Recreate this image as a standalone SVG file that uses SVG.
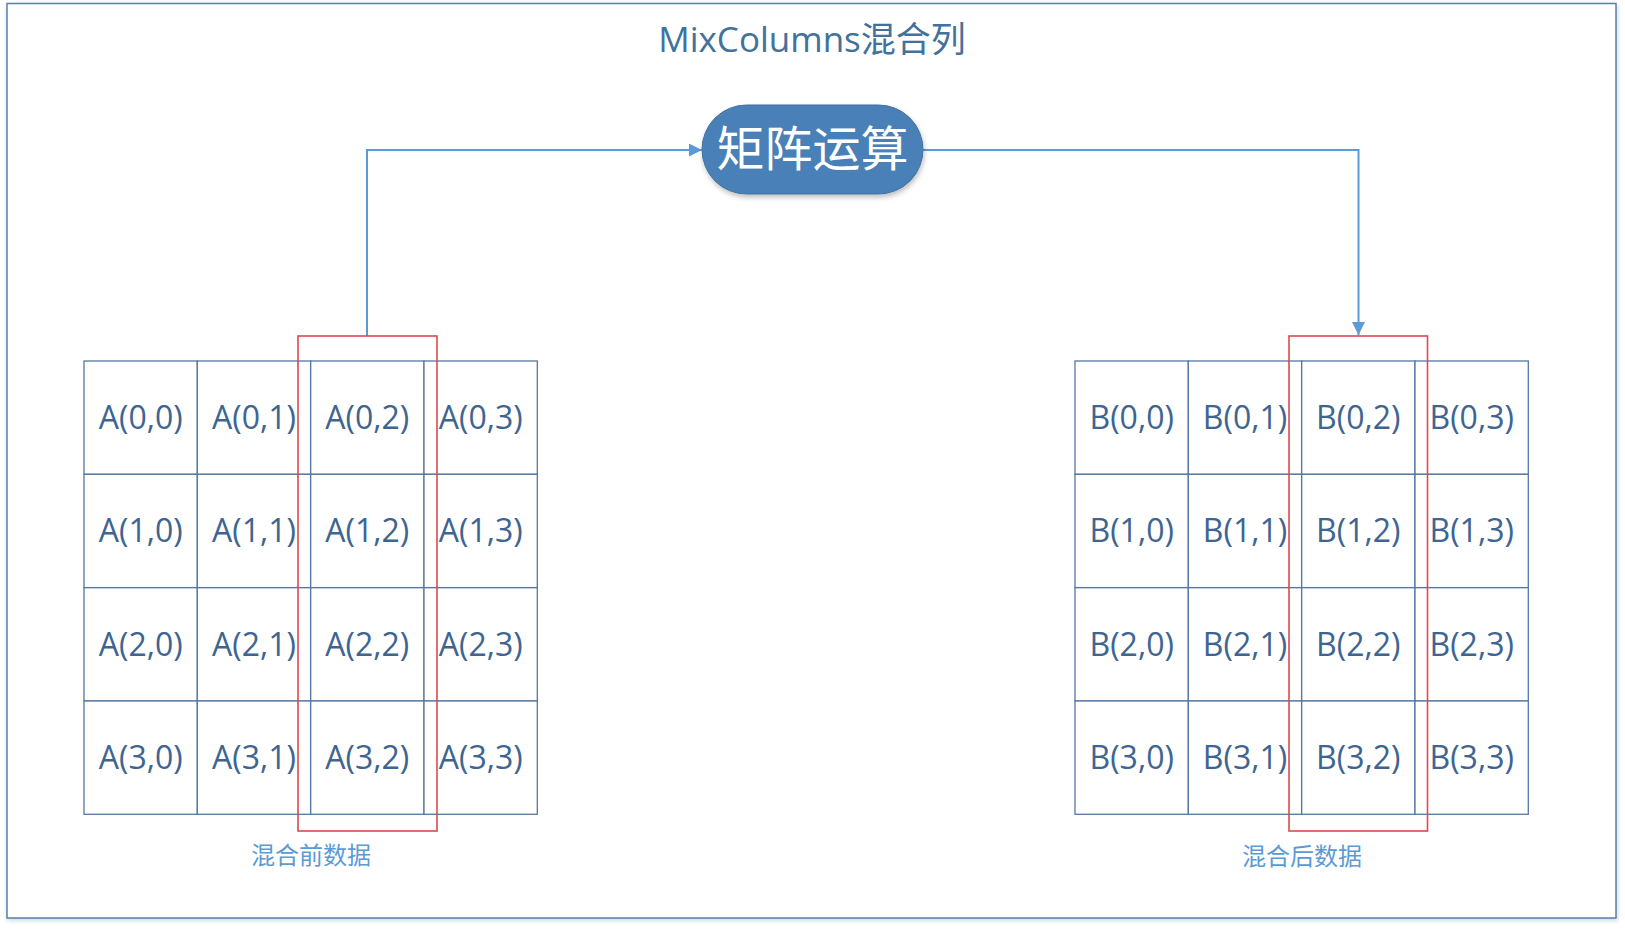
<svg xmlns="http://www.w3.org/2000/svg" width="1625" height="930" viewBox="0 0 1625 930">
<style>
.cell{fill:#ffffff;stroke:#5577a0;stroke-width:1.3}
.ct{font-family:"Open Sans","Noto Sans",sans-serif;font-size:32px;fill:#3e6591;text-anchor:middle}
.red{fill:none;stroke:#e0484e;stroke-width:1.6}
.conn{fill:none;stroke:#5b9bd5;stroke-width:2}
.lbl{font-family:"Noto Sans CJK SC",sans-serif;font-size:24px;fill:#5b9bd5;text-anchor:middle}
</style>
<defs>
<marker id="arr" viewBox="0 0 10 10" refX="10" refY="5" markerWidth="13" markerHeight="13" markerUnits="userSpaceOnUse" orient="auto">
<path d="M0,0 L10,5 L0,10 z" fill="#5b9bd5"/>
</marker>
<filter id="sh" x="-10%" y="-10%" width="130%" height="140%">
<feDropShadow dx="1" dy="3" stdDeviation="2.5" flood-color="#000" flood-opacity="0.25"/>
</filter>
<filter id="sh2" x="-2%" y="-2%" width="104%" height="104%">
<feDropShadow dx="1" dy="2" stdDeviation="2" flood-color="#7a9cc4" flood-opacity="0.4"/>
</filter>
</defs>
<rect width="1625" height="930" fill="#ffffff"/>
<rect id="frame" x="7" y="3.5" width="1609" height="914.5" fill="#ffffff" stroke="#5a7fa8" stroke-width="1.5" filter="url(#sh2)"/>
<text id="title" x="812" y="52" font-family="'Open Sans','Noto Sans CJK SC',sans-serif" font-size="35" fill="#41719c" text-anchor="middle">MixColumns混合列</text>

<g id="connectors">
<polyline class="conn" points="367,336 367,150 702,150" marker-end="url(#arr)"/>
<polyline class="conn" points="923,150 1358.5,150 1358.5,335" marker-end="url(#arr)"/>
</g>

<g id="matrix-op">
<rect x="702" y="105" width="221" height="89" rx="44.5" ry="44.5" fill="#4a80b8" stroke="#41719c" stroke-width="1" filter="url(#sh)"/>
<text x="812.5" y="166" font-family="'Noto Sans CJK SC',sans-serif" font-size="48" fill="#ffffff" text-anchor="middle">矩阵运算</text>
</g>

<g id="matrix-A">
<rect class="cell" x="84" y="361" width="113.3" height="113.3"/>
<rect class="cell" x="197.3" y="361" width="113.3" height="113.3"/>
<rect class="cell" x="310.7" y="361" width="113.3" height="113.3"/>
<rect class="cell" x="424" y="361" width="113.3" height="113.3"/>
<rect class="cell" x="84" y="474.3" width="113.3" height="113.3"/>
<rect class="cell" x="197.3" y="474.3" width="113.3" height="113.3"/>
<rect class="cell" x="310.7" y="474.3" width="113.3" height="113.3"/>
<rect class="cell" x="424" y="474.3" width="113.3" height="113.3"/>
<rect class="cell" x="84" y="587.7" width="113.3" height="113.3"/>
<rect class="cell" x="197.3" y="587.7" width="113.3" height="113.3"/>
<rect class="cell" x="310.7" y="587.7" width="113.3" height="113.3"/>
<rect class="cell" x="424" y="587.7" width="113.3" height="113.3"/>
<rect class="cell" x="84" y="701" width="113.3" height="113.3"/>
<rect class="cell" x="197.3" y="701" width="113.3" height="113.3"/>
<rect class="cell" x="310.7" y="701" width="113.3" height="113.3"/>
<rect class="cell" x="424" y="701" width="113.3" height="113.3"/>
<text class="ct" x="140.7" y="429">A(0,0)</text>
<text class="ct" x="254" y="429">A(0,1)</text>
<text class="ct" x="367.3" y="429">A(0,2)</text>
<text class="ct" x="480.7" y="429">A(0,3)</text>
<text class="ct" x="140.7" y="542.3">A(1,0)</text>
<text class="ct" x="254" y="542.3">A(1,1)</text>
<text class="ct" x="367.3" y="542.3">A(1,2)</text>
<text class="ct" x="480.7" y="542.3">A(1,3)</text>
<text class="ct" x="140.7" y="655.7">A(2,0)</text>
<text class="ct" x="254" y="655.7">A(2,1)</text>
<text class="ct" x="367.3" y="655.7">A(2,2)</text>
<text class="ct" x="480.7" y="655.7">A(2,3)</text>
<text class="ct" x="140.7" y="769">A(3,0)</text>
<text class="ct" x="254" y="769">A(3,1)</text>
<text class="ct" x="367.3" y="769">A(3,2)</text>
<text class="ct" x="480.7" y="769">A(3,3)</text>
<rect class="red" x="298" y="336" width="139" height="495"/>
<text class="lbl" x="311" y="864">混合前数据</text>
</g>

<g id="matrix-B">
<rect class="cell" x="1075" y="361" width="113.3" height="113.3"/>
<rect class="cell" x="1188.3" y="361" width="113.3" height="113.3"/>
<rect class="cell" x="1301.7" y="361" width="113.3" height="113.3"/>
<rect class="cell" x="1415" y="361" width="113.3" height="113.3"/>
<rect class="cell" x="1075" y="474.3" width="113.3" height="113.3"/>
<rect class="cell" x="1188.3" y="474.3" width="113.3" height="113.3"/>
<rect class="cell" x="1301.7" y="474.3" width="113.3" height="113.3"/>
<rect class="cell" x="1415" y="474.3" width="113.3" height="113.3"/>
<rect class="cell" x="1075" y="587.7" width="113.3" height="113.3"/>
<rect class="cell" x="1188.3" y="587.7" width="113.3" height="113.3"/>
<rect class="cell" x="1301.7" y="587.7" width="113.3" height="113.3"/>
<rect class="cell" x="1415" y="587.7" width="113.3" height="113.3"/>
<rect class="cell" x="1075" y="701" width="113.3" height="113.3"/>
<rect class="cell" x="1188.3" y="701" width="113.3" height="113.3"/>
<rect class="cell" x="1301.7" y="701" width="113.3" height="113.3"/>
<rect class="cell" x="1415" y="701" width="113.3" height="113.3"/>
<text class="ct" x="1131.7" y="429">B(0,0)</text>
<text class="ct" x="1245" y="429">B(0,1)</text>
<text class="ct" x="1358.3" y="429">B(0,2)</text>
<text class="ct" x="1471.7" y="429">B(0,3)</text>
<text class="ct" x="1131.7" y="542.3">B(1,0)</text>
<text class="ct" x="1245" y="542.3">B(1,1)</text>
<text class="ct" x="1358.3" y="542.3">B(1,2)</text>
<text class="ct" x="1471.7" y="542.3">B(1,3)</text>
<text class="ct" x="1131.7" y="655.7">B(2,0)</text>
<text class="ct" x="1245" y="655.7">B(2,1)</text>
<text class="ct" x="1358.3" y="655.7">B(2,2)</text>
<text class="ct" x="1471.7" y="655.7">B(2,3)</text>
<text class="ct" x="1131.7" y="769">B(3,0)</text>
<text class="ct" x="1245" y="769">B(3,1)</text>
<text class="ct" x="1358.3" y="769">B(3,2)</text>
<text class="ct" x="1471.7" y="769">B(3,3)</text>
<rect class="red" x="1289" y="336" width="138.5" height="495"/>
<text class="lbl" x="1302" y="865">混合后数据</text>
</g>
</svg>
